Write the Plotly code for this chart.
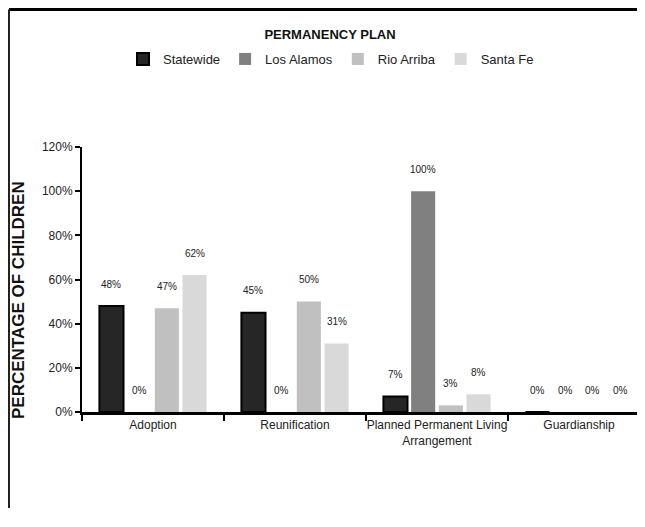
import plotly.graph_objects as go

categories = ['Adoption', 'Reunification', 'Planned Permanent Living Arrangement', 'Guardianship']
cat_labels = ['Adoption', 'Reunification', 'Planned Permanent Living<br>Arrangement', 'Guardianship']
series_names = ['Statewide', 'Los Alamos', 'Rio Arriba', 'Santa Fe']
statewide = [48, 45, 7, 0]
los_alamos = [0, 0, 100, 0]
rio_arriba = [47, 50, 3, 0]
santa_fe = [62, 31, 8, 0]

colors = ['#262626', '#808080', '#c0c0c0', '#d9d9d9']
values = [statewide, los_alamos, rio_arriba, santa_fe]

FONT = 'Liberation Sans, Arial, sans-serif'

# the page body has an 8px margin, so the figure is drawn 8px in from the
# window corner; all reference pixel positions below are shifted by OFF.
# height kept a little short so the page never needs a scrollbar
OFF = 8
W, H = 637, 500
ml, mr = 82 - OFF, 0
mt = 147 - OFF
mb = H - (412 - OFF)
pw = W - ml - mr
ph = H - mt - mb
cat_px = 142.0           # width of one category in px
bargap = 0.22
groupgap = 0.13
slot = cat_px * (1 - bargap) / 4

fig = go.Figure()
for i, (name, vals) in enumerate(zip(series_names, values)):
    fig.add_trace(go.Bar(
        x=categories, y=vals, name=name,
        marker=dict(color=colors[i],
                    line=dict(color='black', width=2 if i == 0 else 0)),
    ))
    # value labels above bars
    for c, v in zip(categories, vals):
        fig.add_annotation(x=c, y=v, xref='x', yref='y', text='%d%%' % v,
                           showarrow=False, yanchor='middle',
                           xshift=(i - 1.5) * slot, yshift=22,
                           font=dict(family=FONT, size=10, color='#222'))

# x range so that categories are 142px wide and the last one is cut at the edge
xmax = -0.5 + pw / cat_px

fig.update_layout(
    width=W, height=H,
    margin=dict(l=ml, r=mr, t=mt, b=mb),
    paper_bgcolor='white', plot_bgcolor='white',
    barmode='group', bargap=bargap, bargroupgap=groupgap,
    font=dict(family=FONT, size=12, color='#222'),
    title=dict(text='<b>PERMANENCY PLAN</b>', x=(330 - OFF) / W, xref='container',
               xanchor='center', y=1 - (34 - OFF) / H, yanchor='middle',
               font=dict(family=FONT, size=13, color='#111')),
    legend=dict(orientation='h', x=(331 - OFF) / W, xref='container', xanchor='center',
                y=1 - (59 - OFF) / H, yref='container', yanchor='middle',
                font=dict(family=FONT, size=13, color='#222'),
                itemwidth=30, tracegroupgap=0),
    showlegend=True,
)
fig.update_xaxes(type='category', range=[-0.5, xmax],
                 tickvals=categories, ticktext=cat_labels, tickangle=0,
                 showline=True, linecolor='black', linewidth=3,
                 ticks='outside', tickson='boundaries', ticklen=6,
                 tickwidth=2, tickcolor='black', showgrid=False,
                 tickfont=dict(family=FONT, size=12))
fig.update_yaxes(range=[0, 120], dtick=20, ticksuffix='%',
                 showline=True, linecolor='black', linewidth=2,
                 ticks='outside', ticklen=5, tickwidth=2, tickcolor='black',
                 showgrid=False, zeroline=False,
                 tickfont=dict(family=FONT, size=12))

# y-axis title placed by hand
fig.add_annotation(x=(18 - OFF - ml) / pw, y=(H - mb - (300 - OFF)) / ph,
                   xref='paper', yref='paper',
                   text='<b>PERCENTAGE OF CHILDREN</b>', textangle=-90,
                   showarrow=False, xanchor='center', yanchor='middle',
                   font=dict(family=FONT, size=17, color='#111'))

# outer border (top and left edges visible), kept just inside the figure
top = (H - mb - 1.5) / ph
left = (1 - ml) / pw
fig.add_shape(type='line', xref='paper', yref='paper', x0=left, x1=1.05, y0=top, y1=top,
              line=dict(color='black', width=3))
fig.add_shape(type='line', xref='paper', yref='paper', x0=left, x1=left, y0=top, y1=-1,
              line=dict(color='#222', width=2))

fig.write_html('out.html')
